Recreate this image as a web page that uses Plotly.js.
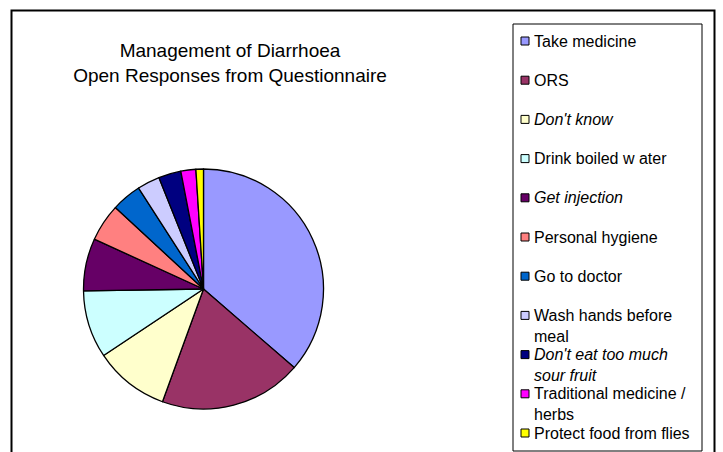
<!DOCTYPE html>
<html>
<head>
<meta charset="utf-8">
<script src="https://cdn.plot.ly/plotly-3.0.1.min.js"></script>
<style>
  html, body { margin: 0; padding: 0; background: #ffffff; }
  #chart { width: 723px; height: 452px; }
</style>
</head>
<body>
<div id="chart"></div>
<script>
// Data
const categories = [
  "Take medicine",
  "ORS",
  "<i>Don't know</i>",
  "Drink boiled w ater",
  "<i>Get injection</i>",
  "Personal hygiene",
  "Go to doctor",
  "Wash hands before<br>meal",
  "<i>Don't eat too much<br>sour fruit</i>",
  "Traditional medicine /<br>herbs",
  "Protect food from flies"
];
const responses = [36, 19, 10, 9, 7, 5, 4, 3, 3, 2, 1];
const sliceColors = [
  "#9999FF", "#993366", "#FFFFCC", "#CCFFFF", "#660066",
  "#FF8080", "#0066CC", "#CCCCFF", "#000080", "#FF00FF", "#FFFF00"
];
const titleLines = ["Management of Diarrhoea", "Open Responses from Questionnaire"];

const W = 723, H = 452;
const cx = 203.5, cy = 289, r = 120;
const FONT = "Liberation Sans, Arial, sans-serif";
const px = v => v / W;
const py = v => 1 - v / H;

const trace = {
  type: "pie",
  labels: categories,
  values: responses,
  sort: false,
  direction: "clockwise",
  rotation: 0,
  textinfo: "none",
  hoverinfo: "label+value",
  showlegend: false,
  marker: { colors: sliceColors, line: { color: "#000000", width: 1.3 } },
  domain: {
    x: [px(cx - r), px(cx + r)],
    y: [py(cy + r), py(cy - r)]
  }
};

// Legend drawn as a box with one swatch and one label per category
const legLeft = 513, legRight = 702, legTop = 24, legBottom = 451;
const rowTop = 41, rowStep = 39.2;
const shapes = [
  { // outer chart border
    type: "rect", xref: "paper", yref: "paper",
    x0: px(11.5), x1: px(714.5), y0: -0.05, y1: py(10.5),
    line: { color: "#000000", width: 2 }, fillcolor: "rgba(0,0,0,0)"
  },
  { // legend box
    type: "rect", xref: "paper", yref: "paper",
    x0: px(legLeft), x1: px(legRight), y0: py(legBottom), y1: py(legTop),
    line: { color: "#000000", width: 1 }, fillcolor: "#ffffff", layer: "below"
  }
];
const annotations = [];
categories.forEach((name, i) => {
  const yc = rowTop + rowStep * i;
  shapes.push({
    type: "rect", xref: "paper", yref: "paper",
    x0: px(521), x1: px(529), y0: py(yc + 4), y1: py(yc - 4),
    line: { color: "#000000", width: 1 }, fillcolor: sliceColors[i]
  });
  annotations.push({
    xref: "paper", yref: "paper",
    x: px(532), y: py(yc - 10.5), xanchor: "left", yanchor: "top",
    align: "left", showarrow: false,
    text: name,
    font: { family: FONT, size: 16, color: "#000000" }
  });
});

const layout = {
  width: W, height: H,
  margin: { l: 0, r: 0, t: 0, b: 0 },
  paper_bgcolor: "#ffffff",
  plot_bgcolor: "#ffffff",
  font: { family: FONT, color: "#000000" },
  title: {
    text: titleLines.join("<br>"),
    font: { family: FONT, size: 19, color: "#000000" },
    x: px(230), xref: "paper", xanchor: "center",
    y: py(57), yref: "paper", yanchor: "middle"
  },
  showlegend: false,
  shapes: shapes,
  annotations: annotations
};

Plotly.newPlot("chart", [trace], layout, { displayModeBar: false, staticPlot: true });
</script>
</body>
</html>
